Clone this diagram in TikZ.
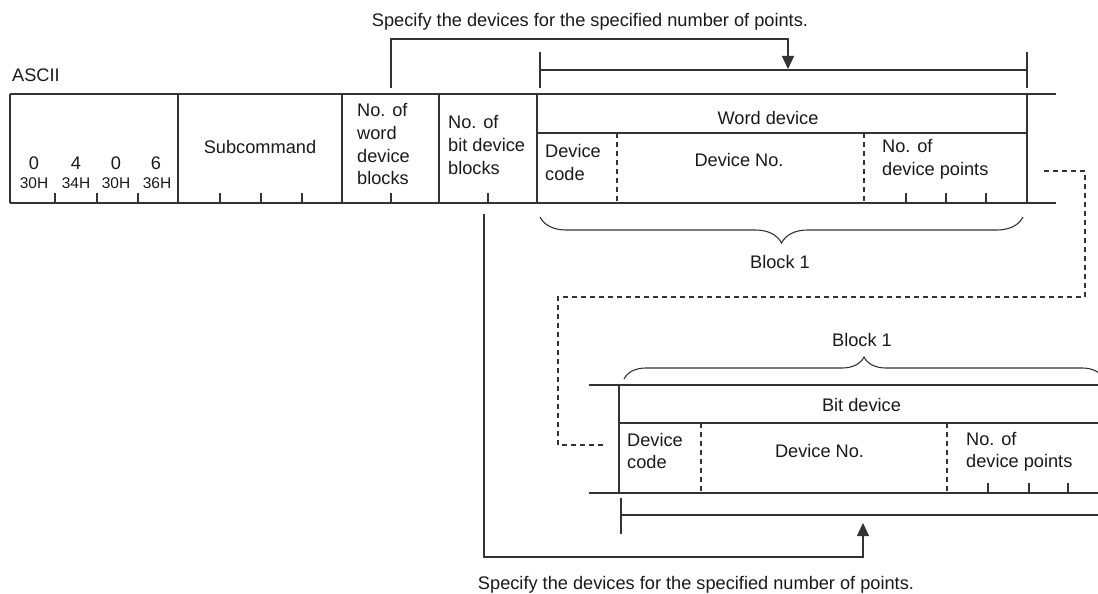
\documentclass[tikz,border=0pt]{standalone}
\usepackage{fontspec}
\setmainfont{Liberation Sans}
\usepackage{tikz}
\usetikzlibrary{arrows.meta, decorations.pathreplacing}
\definecolor{frameline}{HTML}{333333}
\definecolor{labeltext}{HTML}{1A1A1A}

\begin{document}
\begin{tikzpicture}[x=1pt, y=-1pt,
  frame/.style={draw=frameline, line width=1.4pt},
  conn/.style={draw=frameline, line width=1.1pt},
  dashline/.style={draw=frameline, line width=1.1pt, dash pattern=on 5pt off 4pt},
  tick/.style={draw=frameline, line width=1.1pt},
  curly/.style={draw=frameline, line width=1.1pt, decorate},
  lbl/.style={font=\fontsize{18.2}{22.7}\selectfont, text=labeltext, inner sep=0pt},
  hexlbl/.style={font=\fontsize{15.5}{18}\selectfont, text=labeltext, inner sep=0pt},
  ptr/.style={conn, -{Triangle[length=13pt, width=12pt]}}]
\path[fill=white, use as bounding box] (0,0) rectangle (1098,594);
\clip (0,0) rectangle (1098,594);

% Request frame - word device part
\draw[frame] (10,94) -- (1056,94);
\draw[frame] (10,203) -- (1056,203);
\foreach \x in {10,178,342,439,537,1027}
  \draw[frame] (\x,94) -- (\x,203);
\draw[frame] (537,133) -- (1027,133);
\foreach \x in {617,864}
  \draw[dashline] (\x,133) -- (\x,203);
\foreach \x in {55,97,138,220,261,302,391,488,906,946,986}
  \draw[tick] (\x,193) -- (\x,203);

\node[lbl, anchor=base west] (ascii) at (12,81.5) {ASCII};
\node[lbl, anchor=base] (d1) at (34,169) {0};
\node[lbl, anchor=base] (d2) at (76,169) {4};
\node[lbl, anchor=base] (d3) at (116,169) {0};
\node[lbl, anchor=base] (d4) at (156,169) {6};
\node[hexlbl, anchor=base] (h1) at (34,188.5) {30H};
\node[hexlbl, anchor=base] (h2) at (76,188.5) {34H};
\node[hexlbl, anchor=base] (h3) at (116,188.5) {30H};
\node[hexlbl, anchor=base] (h4) at (157,188.5) {36H};
\node[lbl, anchor=base] (subcmd) at (260,153.8) {Subcommand};
\node[lbl, anchor=north west, align=left] (nword) at (357,103.4) {No. of\\word\\device\\blocks};
\node[lbl, anchor=north west, align=left] (nbit) at (448,115.4) {No. of\\bit device\\blocks};
\node[lbl, anchor=base] (wdev) at (768,124.8) {Word device};
\node[lbl, anchor=north west, align=left] (wcode) at (545,144.4) {Device\\code};
\node[lbl, anchor=base] (wno) at (739,166.5) {Device No.};
\node[lbl, anchor=north west, align=left] (wpts) at (882,139.4) {No. of\\device points};

% Block 1 of word devices
\draw[curly, decoration={brace, mirror, amplitude=26pt}] (540,217) -- (1023,217);
\node[lbl, anchor=base] (wblock) at (780,268.5) {Block 1};

% Top pointer
\node[lbl, anchor=base] (spectop) at (590,26.5) {Specify the devices for the specified number of points.};
\draw[conn] (540,52) -- (540,88);
\draw[conn] (1027,52) -- (1027,88);
\draw[conn] (540,70) -- (1027,70);
\coordinate (wtick) at (391,88);
\coordinate (wmark) at (788,69);
\draw[ptr] (wtick) -- ++(0,-49) -| (wmark);

% Continuation to bit device part
\coordinate (dstart) at (1044,171);
\coordinate (dend) at (603,445);
\draw[dashline] (dstart) -| (1085,297) -| (558,445) -- (dend);

% Bit device part
\draw[frame] (589,385) -- (1098,385);
\draw[frame] (619,423) -- (1098,423);
\draw[frame] (589,493) -- (1098,493);
\draw[frame] (619,385) -- (619,493);
\foreach \x in {701,947}
  \draw[dashline] (\x,423) -- (\x,493);
\foreach \x in {988,1029,1068}
  \draw[tick] (\x,483) -- (\x,493);

\draw[curly, decoration={brace, amplitude=22pt}] (624,379) -- (1104,379);
\node[lbl, anchor=base] (bblock) at (862,346.5) {Block 1};
\node[lbl, anchor=base] (bdev) at (861.5,411.5) {Bit device};
\node[lbl, anchor=north west, align=left] (bcode) at (627,432.7) {Device\\code};
\node[lbl, anchor=base] (bno) at (819.5,457) {Device No.};
\node[lbl, anchor=north west, align=left] (bpts) at (966,431.7) {No. of\\device points};

% Bottom pointer
\draw[conn] (621,498) -- (621,534);
\draw[conn] (621,515) -- (1098,515);
\coordinate (btick) at (484,214);
\coordinate (bmark) at (863,523);
\draw[ptr] (btick) -- ++(0,343) -| (bmark);
\node[lbl, anchor=base] (specbot) at (696,589.8) {Specify the devices for the specified number of points.};
\end{tikzpicture}
\end{document}
